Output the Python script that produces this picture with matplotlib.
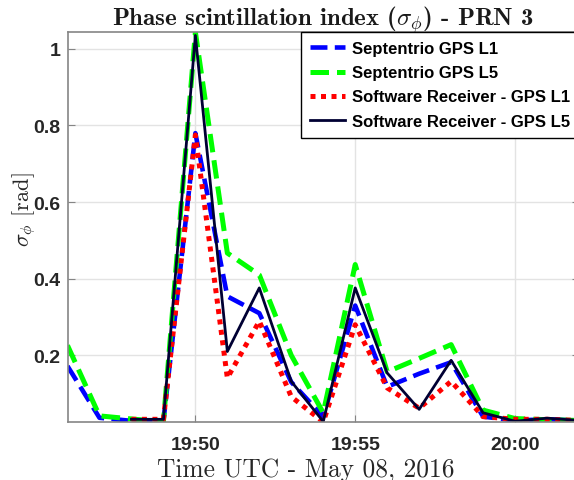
import os
import numpy as np
import matplotlib
matplotlib.use('Agg')
import matplotlib.pyplot as plt
from matplotlib.font_manager import FontProperties

# time stamps (UTC, 08 May 2016)
times_sep = ['19:46', '19:47', '19:48', '19:49', '19:50', '19:51', '19:52', '19:53', '19:54',
             '19:55', '19:56', '19:57', '19:58', '19:59', '20:00', '20:01', '20:02']
times_sw = ['19:48', '19:49', '19:50', '19:51', '19:52', '19:53', '19:54',
            '19:55', '19:56', '19:57', '19:58', '19:59', '20:00', '20:01', '20:02']

# sigma_phi [rad]
sep_l1 = [0.172, 0.037, 0.029, 0.027, 0.780, 0.354, 0.310, 0.130, 0.040,
          0.330, 0.118, 0.152, 0.182, 0.040, 0.030, 0.033, 0.030]
sep_l5 = [0.226, 0.042, 0.034, 0.026, 1.044, 0.467, 0.410, 0.200, 0.050,
          0.437, 0.157, 0.192, 0.228, 0.057, 0.035, 0.032, 0.030]
sw_l1 = [0.033, 0.033, 0.775, 0.141, 0.289, 0.092, 0.026,
         0.280, 0.115, 0.062, 0.132, 0.040, 0.033, 0.033, 0.030]
sw_l5 = [0.033, 0.033, 1.035, 0.210, 0.376, 0.132, 0.027,
         0.376, 0.154, 0.059, 0.187, 0.050, 0.028, 0.036, 0.030]

xticks = ['19:50', '19:55', '20:00']
yticks = [0.2, 0.4, 0.6, 0.8, 1.0]
ytick_labels = ['0.2', '0.4', '0.6', '0.8', '1']


def to_dt(ts):
	return np.array(['2016-05-08T' + t for t in ts], dtype='datetime64[m]')


plt.rcParams['mathtext.fontset'] = 'cm'
plt.rcParams['font.family'] = 'Liberation Sans'

fontdir = os.path.join(matplotlib.get_data_path(), 'fonts', 'ttf')
cmb = FontProperties(fname=os.path.join(fontdir, 'cmb10.ttf'), size=17.9)
cmr_x = FontProperties(fname=os.path.join(fontdir, 'cmr10.ttf'), size=18.3)
cmr_y = FontProperties(fname=os.path.join(fontdir, 'cmr10.ttf'), size=16)

fig = plt.figure(figsize=(5.74, 4.81), dpi=100)
ax = fig.add_axes([67.5/574, 58/481, 511.5/574, 390/481])

ax.plot(to_dt(times_sep), sep_l1, color='#0000ff', lw=3.3, ls='--', label='Septentrio GPS L1')
ax.plot(to_dt(times_sep), sep_l5, color='#00ff00', lw=3.6, ls='--', label='Septentrio GPS L5')
ax.plot(to_dt(times_sw), sw_l1, color='#ff0000', lw=3.6, ls=(0, (1, 1.1)), label='Software Receiver - GPS L1')
ax.plot(to_dt(times_sw), sw_l5, color='#000033', lw=2.0, ls='-', label='Software Receiver - GPS L5')

ax.set_xlim(to_dt(['19:46'])[0], to_dt(['20:02'])[0])
ax.set_ylim(0.026, 1.044)
ax.set_xticks(to_dt(xticks))
ax.set_xticklabels(xticks, fontweight='bold')
ax.set_yticks(yticks)
ax.set_yticklabels(ytick_labels, fontweight='bold')

ax.grid(True, color='#e3e3e3', lw=1)
ax.set_axisbelow(True)
for s in ax.spines.values():
	s.set_color('#858585')
	s.set_linewidth(1.2)
ax.tick_params(direction='in', length=5, top=True, right=True, labelsize=14,
               color='#858585', labelcolor='#262626')
ax.tick_params(axis='x', pad=10)
ax.tick_params(axis='y', pad=5)

ax.set_title(r'Phase scintillation index ($\sigma_\phi$) - PRN 3', fontproperties=cmb,
             color='#1a1a1a', pad=5)
ax.set_xlabel('Time UTC - May 08, 2016', fontproperties=cmr_x, color='#262626')
ax.xaxis.label.set_va('baseline')
ax.xaxis.set_label_coords(0.465, -0.138)
ax.set_ylabel(r'$\sigma_\phi$ [rad]', fontproperties=cmr_y, color='#262626')
ax.yaxis.set_label_coords(-0.058, 0.547)

leg = ax.legend(loc='upper right', borderaxespad=0, fancybox=False, framealpha=1,
                edgecolor='black', handlelength=2.1, handletextpad=0.4, labelspacing=0.55,
                borderpad=0.55, prop={'family': 'Liberation Sans', 'weight': 'bold', 'size': 12})
leg.get_frame().set_linewidth(1.0)

fig.savefig('out.png', dpi=100)
